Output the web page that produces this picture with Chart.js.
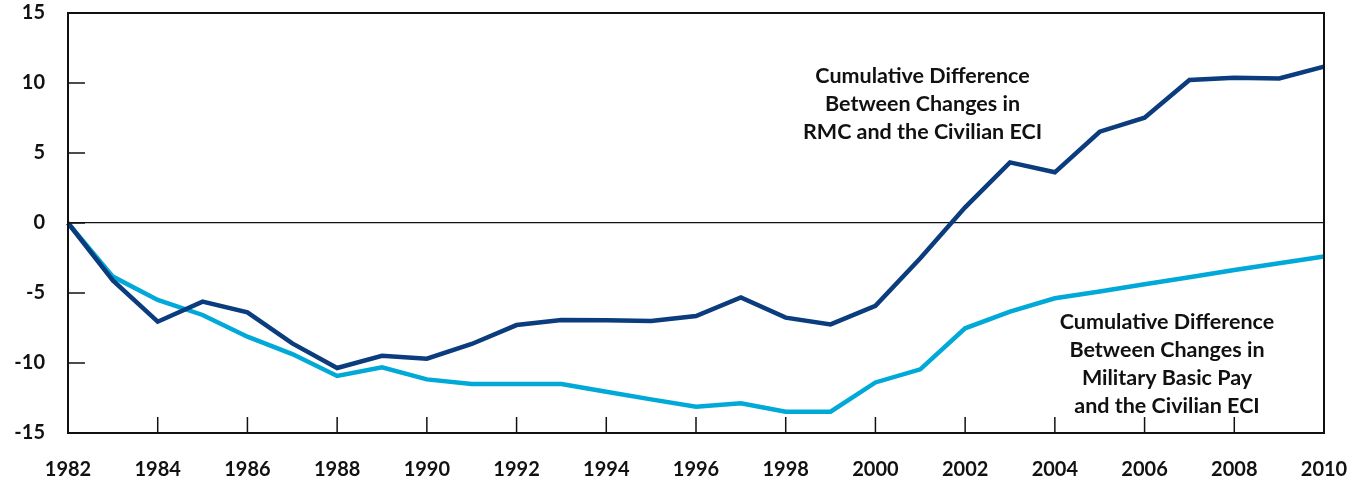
<!DOCTYPE html>
<html>
<head>
<meta charset="utf-8">
<script src="https://cdn.jsdelivr.net/npm/chart.js@4.4.0/dist/chart.umd.min.js"></script>
<style>
  html, body { margin: 0; padding: 0; background: #ffffff; }
  #wrap { width: 1359px; height: 480px; position: relative; }
</style>
</head>
<body>
<div id="wrap"><canvas id="c" width="1359" height="480"></canvas></div>
<script>
const years = [1982,1983,1984,1985,1986,1987,1988,1989,1990,1991,1992,1993,1994,1995,1996,1997,1998,1999,2000,2001,2002,2003,2004,2005,2006,2007,2008,2009,2010];
const rmcVsEci = [0,-4.1,-7.05,-5.62,-6.38,-8.6,-10.36,-9.48,-9.69,-8.64,-7.29,-6.93,-6.95,-7.0,-6.64,-5.31,-6.76,-7.24,-5.92,-2.52,1.12,4.33,3.62,6.52,7.52,10.21,10.38,10.33,11.17];
const basicPayVsEci = [0,-3.83,-5.5,-6.57,-8.12,-9.36,-10.93,-10.31,-11.17,-11.5,-11.5,-11.5,-12.05,-12.6,-13.12,-12.88,-13.48,-13.48,-11.39,-10.45,-7.52,-6.33,-5.38,-4.9,-4.38,-3.88,-3.36,-2.88,-2.4];
const yTicks = [-15,-10,-5,0,5,10,15];
const labelRmc = ["Cumulative Difference","Between Changes in","RMC and the Civilian ECI"];
const labelPay = ["Cumulative Difference","Between Changes in","Military Basic Pay","and the Civilian ECI"];

const FONT = "Lato, 'Open Sans', sans-serif";
const DARK = "#0b3c7d";
const LIGHT = "#00a9d7";

const framePlugin = {
  id: 'frame',
  afterDatasetsDraw(chart) {
    const ctx = chart.ctx, a = chart.chartArea;
    const xs = chart.scales.x, ys = chart.scales.y;
    ctx.save();
    ctx.strokeStyle = '#111';
    ctx.lineWidth = 2;
    ctx.beginPath();
    ctx.moveTo(a.left, a.top); ctx.lineTo(a.right, a.top);
    ctx.lineTo(a.right, a.bottom); ctx.lineTo(a.left, a.bottom);
    ctx.closePath();
    ctx.stroke();
    ctx.lineWidth = 1.5;
    yTicks.forEach(v => {
      const py = ys.getPixelForValue(v);
      ctx.beginPath(); ctx.moveTo(a.left, py); ctx.lineTo(a.left + 17, py); ctx.stroke();
    });
    years.forEach((yr, i) => {
      if (yr % 2 === 0 && i > 0 && i < years.length - 1) {
        const px = xs.getPixelForValue(i);
        ctx.beginPath(); ctx.moveTo(px, a.bottom); ctx.lineTo(px, a.bottom - 16); ctx.stroke();
      }
    });
    ctx.fillStyle = '#111';
    ctx.font = "bold 21.5px " + FONT;
    ctx.textAlign = 'center';
    ctx.textBaseline = 'middle';
    const cx1 = xs.getPixelForValue(19.05);
    labelRmc.forEach((t, k) => {
      ctx.fillText(t, cx1, ys.getPixelForValue(10.5 - k * 2));
    });
    const cx2 = xs.getPixelForValue(24.5);
    labelPay.forEach((t, k) => {
      ctx.fillText(t, cx2, ys.getPixelForValue(-7.05 - k * 2));
    });
    ctx.restore();
  }
};

new Chart(document.getElementById('c'), {
  type: 'line',
  data: {
    labels: years.map(String),
    datasets: [
      { label: 'RMC', data: rmcVsEci, borderColor: DARK, borderWidth: 4.5, pointRadius: 0, tension: 0, fill: false },
      { label: 'Basic Pay', data: basicPayVsEci, borderColor: LIGHT, borderWidth: 4.5, pointRadius: 0, tension: 0, fill: false }
    ]
  },
  options: {
    responsive: false,
    animation: false,
    events: [],
    layout: { padding: { top: 13, right: 35, left: 0, bottom: 0 } },
    plugins: { legend: { display: false }, tooltip: { enabled: false } },
    scales: {
      x: {
        offset: false,
        grid: { display: false, drawTicks: false },
        border: { display: false },
        ticks: {
          autoSkip: false, maxRotation: 0, padding: 25,
          color: '#111',
          font: { family: FONT, weight: 'bold', size: 20 },
          callback: function(v, i) { return years[i] % 2 === 0 ? String(years[i]) : ''; }
        },
        afterFit(s) { s.height = 47; s.paddingLeft = 0; s.paddingRight = 0; }
      },
      y: {
        min: -15, max: 15,
        grid: {
          drawTicks: false,
          color: ctx => ctx.tick && ctx.tick.value === 0 ? '#111' : 'rgba(0,0,0,0)',
          lineWidth: 1.3
        },
        border: { display: false },
        ticks: {
          stepSize: 5, padding: 23,
          color: '#111',
          font: { family: FONT, weight: 'bold', size: 20 }
        },
        afterFit(s) { s.width = 68; s.paddingTop = 0; s.paddingBottom = 0; }
      }
    }
  },
  plugins: [framePlugin]
});
</script>
</body>
</html>
